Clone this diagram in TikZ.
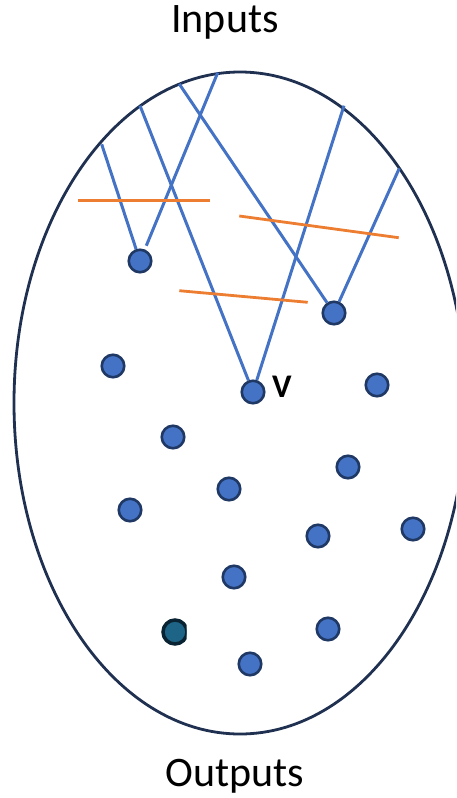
\documentclass[tikz,border=0pt]{standalone}
\usepackage{fontspec}
\setmainfont{Carlito}
\definecolor{nodeblue}{RGB}{68,114,196}
\definecolor{nodeedge}{RGB}{31,56,100}
\definecolor{ringcol}{RGB}{31,48,80}
\definecolor{cutcol}{RGB}{237,125,49}
\definecolor{darkfill}{RGB}{30,100,135}
\definecolor{darkedge}{RGB}{10,35,50}
\begin{document}
\begin{tikzpicture}[x=1pt,y=-1pt,
  unit/.style={circle,fill=nodeblue,draw=nodeedge,line width=2.6pt,minimum size=22.5pt,inner sep=0pt},
  edge/.style={draw=nodeblue,line width=3pt},
  cut/.style={draw=cutcol,line width=2.8pt},
  lbl/.style={font=\fontsize{42}{42}\selectfont}]
\useasboundingbox (0,0) rectangle (456,798);
\begin{scope}
\clip (0,0) rectangle (456,798);
\draw[ringcol,line width=2.8pt] (240,403) ellipse [x radius=226, y radius=331];
\end{scope}
\node[lbl] (inputs) at (225,22) {Inputs};
\node[lbl] (outputs) at (235,776) {Outputs};
% entry points on the ellipse
\coordinate (a1) at (101.7,144.3);
\coordinate (a2) at (217.7,72.7);
\coordinate (a3) at (140,105.7);
\coordinate (a4) at (179.3,84);
\coordinate (a5) at (344,105.7);
\coordinate (a6) at (399.3,168.3);
% units
\node[unit] (n1) at (140,261) {};
\node[unit] (n2) at (334,313) {};
\node[unit] (n3) at (113,366) {};
\node[unit] (v) at (253,392) {};
\node[font=\bfseries\fontsize{33}{33}\selectfont] (vl) at (282,387) {V};
\node[unit] (n5) at (377,385) {};
\node[unit] (n6) at (173,437) {};
\node[unit] (n7) at (348,467) {};
\node[unit] (n8) at (229,489) {};
\node[unit] (n9) at (130,510) {};
\node[unit] (n10) at (318,536) {};
\node[unit] (n11) at (413,529) {};
\node[unit] (n12) at (234,577) {};
\node[unit] (n14) at (328,629) {};
\node[unit] (n15) at (250,664) {};
\begin{scope}
\clip (150,605) rectangle (186.5,660);
\node[unit,fill=darkfill,draw=darkedge,line width=3.5pt,minimum size=24pt] (dk) at (175,632) {};
\end{scope}
% connectors
\draw[edge] (a1) -- (n1);
\draw[edge,shorten <=4pt] (n1) -- (a2);
\draw[edge] (a3) -- (v);
\draw[edge] (a4) -- (n2);
\draw[edge] (a5) -- (v);
\draw[edge] (a6) -- (n2);
% cuts
\coordinate (c1a) at (78.3,200.7);
\coordinate (c1b) at (210,200.7);
\coordinate (c2a) at (239.3,216);
\coordinate (c2b) at (398.7,237.7);
\coordinate (c3a) at (179.3,290.7);
\coordinate (c3b) at (307.7,302.3);
\draw[cut] (c1a) -- (c1b);
\draw[cut] (c2a) -- (c2b);
\draw[cut] (c3a) -- (c3b);
\end{tikzpicture}
\end{document}
